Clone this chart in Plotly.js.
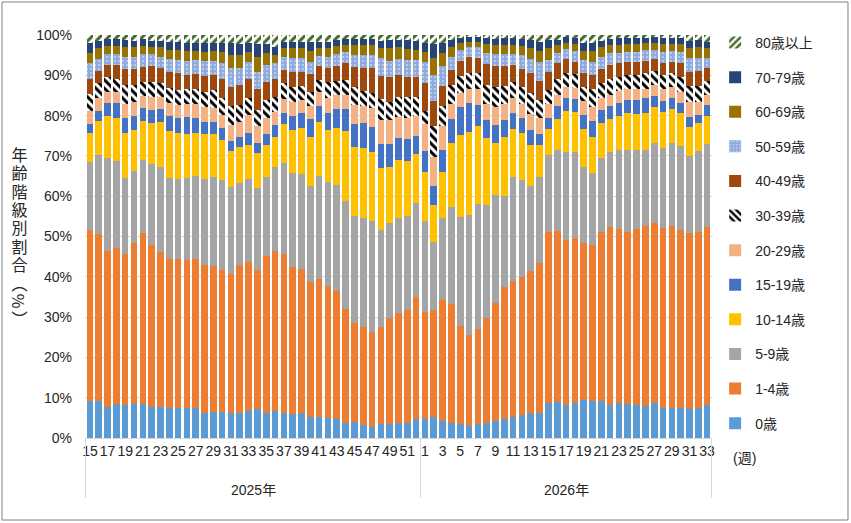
<!DOCTYPE html>
<html>
<head>
<meta charset="utf-8">
<script src="https://cdn.plot.ly/plotly-3.0.1.min.js"></script>
<style>
  html, body { margin: 0; padding: 0; background: #fff; }
  #chart { width: 851px; height: 523px; }
</style>
</head>
<body>
<div id="chart"></div>
<script>
(function () {
    'use strict';

    // week numbers on the x axis
    var weeks2025 = [15, 16, 17, 18, 19, 20, 21, 22, 23, 24, 25, 26, 27, 28, 29, 30, 31, 32, 33, 34,
        35, 36, 37, 38, 39, 40, 41, 42, 43, 44, 45, 46, 47, 48, 49, 50, 51, 52];
    var weeks2026 = [1, 2, 3, 4, 5, 6, 7, 8, 9, 10, 11, 12, 13, 14, 15, 16, 17, 18, 19, 20,
        21, 22, 23, 24, 25, 26, 27, 28, 29, 30, 31, 32, 33];
    var yearLabels = ['2025年', '2026年'];
    var yTicks = [0, 10, 20, 30, 40, 50, 60, 70, 80, 90, 100];

    // share of cases per age group (%), one value per week
    var age0 = [9.3, 9.3, 7.6, 8.4, 8.2, 8.4, 8.4, 7.8, 7.8, 7.5,
        7.4, 7.4, 7.4, 6.3, 6.5, 6.5, 6.1, 6.3, 6.7, 7.1,
        6.1, 6.7, 6.1, 6.0, 6.1, 5.1, 5.1, 5.0, 4.7, 3.6,
        4.0, 3.2, 2.8, 3.5, 3.5, 3.6, 3.8, 4.6, 4.6, 5.3,
        4.2, 3.6, 3.4, 3.0, 3.4, 3.6, 4.2, 4.6, 5.3, 5.7,
        6.1, 6.3, 8.6, 9.0, 8.2, 8.8, 9.4, 9.3, 9.3, 8.2,
        8.6, 8.4, 8.2, 7.9, 8.6, 7.5, 7.5, 7.5, 7.1, 7.5, 8.2];
    var age1_4 = [42.3, 41.3, 38.8, 38.7, 37.5, 39.9, 42.4, 40.1, 38.4, 36.9,
        36.9, 36.8, 36.9, 36.6, 36.3, 35.2, 34.5, 36.6, 36.9, 34.6,
        39.1, 39.8, 39.6, 36.5, 35.8, 33.7, 34.4, 32.7, 31.8, 28.3,
        24.6, 24.3, 23.6, 24.0, 26.2, 27.3, 28.0, 30.5, 26.7, 26.5,
        30.0, 29.7, 24.5, 22.6, 23.6, 26.1, 29.2, 32.8, 33.7, 34.2,
        35.4, 37.2, 42.4, 42.4, 40.9, 40.9, 39.1, 38.6, 41.9, 44.2,
        43.3, 42.6, 43.6, 44.7, 44.8, 44.7, 45.1, 44.1, 43.7, 43.7, 44.2];
    var age5_9 = [17.0, 19.6, 23.2, 21.7, 18.9, 18.0, 18.3, 20.0, 21.0, 20.2,
        20.0, 20.4, 20.7, 21.3, 22.0, 22.2, 21.8, 20.4, 20.7, 20.4,
        19.6, 20.7, 22.6, 23.3, 23.5, 23.8, 25.5, 25.9, 26.4, 27.0,
        26.5, 27.0, 27.4, 24.1, 23.6, 23.6, 23.3, 23.3, 22.5, 16.8,
        20.5, 23.9, 26.9, 29.7, 31.1, 28.0, 26.9, 22.7, 25.7, 24.1,
        21.0, 21.3, 19.2, 20.1, 21.8, 21.3, 18.8, 17.9, 18.2, 18.6,
        19.6, 20.5, 19.7, 18.9, 19.7, 19.8, 20.5, 20.9, 19.2, 20.1, 20.5];
    var age10_14 = [7.2, 8.5, 10.3, 10.7, 11.2, 10.1, 9.6, 10.2, 11.1, 11.7,
        11.3, 10.8, 10.6, 11.2, 10.6, 10.0, 8.9, 8.9, 8.4, 8.7,
        7.9, 7.6, 9.6, 10.6, 11.6, 12.1, 13.5, 12.8, 14.1, 17.4,
        17.0, 17.5, 17.1, 15.3, 14.0, 14.6, 13.7, 12.1, 12.3, 9.2,
        11.2, 15.9, 20.4, 20.7, 19.3, 16.7, 13.0, 14.7, 11.9, 11.8,
        10.3, 7.8, 6.5, 7.7, 10.2, 10.0, 9.3, 9.0, 8.7, 8.2,
        8.5, 9.1, 8.8, 9.1, 9.1, 8.9, 8.5, 8.1, 7.2, 6.9, 7.1];
    var age15_19 = [2.2, 2.5, 3.3, 3.7, 3.5, 3.6, 3.1, 3.3, 3.4, 3.7,
        3.9, 4.3, 3.9, 3.1, 3.1, 3.1, 2.4, 2.5, 3.1, 2.5,
        2.7, 2.9, 2.8, 3.5, 3.7, 4.4, 3.9, 4.3, 4.6, 5.3,
        5.8, 6.2, 6.2, 6.0, 5.6, 5.3, 5.4, 4.5, 5.1, 4.8,
        5.6, 6.0, 6.9, 7.2, 5.2, 4.6, 4.4, 4.1, 4.1, 3.7,
        3.6, 2.9, 2.6, 3.1, 3.2, 3.1, 3.5, 3.9, 3.3, 3.1,
        3.1, 3.3, 3.6, 3.7, 2.7, 2.7, 2.8, 2.5, 2.5, 1.9, 2.6];
    var age20_29 = [3.2, 3.1, 2.7, 2.7, 3.7, 3.5, 3.1, 3.3, 3.0, 3.2,
        3.1, 3.2, 3.5, 3.6, 3.3, 3.2, 4.0, 3.8, 4.3, 4.2,
        3.9, 3.3, 3.3, 3.6, 3.2, 3.3, 3.5, 3.6, 3.5, 3.5,
        4.7, 4.2, 4.7, 5.9, 6.0, 5.2, 5.3, 5.0, 6.6, 7.2,
        5.8, 3.9, 3.4, 3.3, 3.9, 3.9, 4.4, 4.1, 3.6, 3.4,
        4.0, 3.8, 3.6, 2.9, 2.7, 2.7, 3.4, 3.5, 2.9, 2.8,
        2.9, 2.6, 2.6, 2.2, 2.7, 2.9, 2.6, 2.8, 3.8, 3.4, 2.5];
    var age30_39 = [4.2, 3.7, 3.6, 3.3, 4.6, 4.1, 3.5, 3.7, 3.3, 3.6,
        3.8, 3.6, 3.5, 3.8, 4.6, 4.1, 4.7, 4.1, 4.2, 3.9,
        4.6, 3.7, 4.2, 3.7, 3.4, 3.5, 3.0, 4.1, 3.6, 3.7,
        4.4, 3.8, 3.9, 5.4, 4.6, 5.1, 5.2, 4.7, 3.3, 7.5,
        5.1, 4.6, 4.3, 4.0, 4.0, 4.7, 4.9, 4.3, 4.1, 4.3,
        5.2, 4.6, 3.5, 4.0, 3.5, 3.5, 3.7, 4.3, 3.9, 4.1,
        3.7, 3.6, 3.6, 4.0, 3.5, 3.6, 3.5, 3.8, 3.9, 3.9, 3.6];
    var age40_49 = [3.7, 3.1, 3.1, 3.4, 3.9, 3.9, 3.7, 3.9, 3.7, 3.9,
        4.1, 3.6, 3.8, 3.9, 3.7, 4.7, 4.6, 5.0, 4.8, 5.1,
        4.5, 4.3, 3.1, 3.7, 3.6, 4.3, 3.4, 3.5, 3.6, 4.2,
        5.0, 5.5, 6.0, 5.6, 6.0, 5.4, 4.8, 4.8, 7.1, 6.2,
        4.9, 3.7, 3.8, 4.0, 3.7, 5.1, 5.3, 5.0, 4.2, 4.3,
        4.9, 4.8, 4.3, 3.8, 3.5, 3.1, 3.3, 3.6, 3.3, 3.3,
        3.3, 3.3, 3.3, 3.1, 2.9, 3.0, 2.9, 3.3, 3.3, 3.7, 3.2];
    var age50_59 = [3.9, 2.9, 2.7, 2.7, 3.1, 3.1, 3.2, 3.0, 2.9, 3.3,
        3.3, 3.5, 3.5, 3.8, 3.5, 4.0, 4.7, 4.3, 4.3, 4.4,
        4.2, 4.0, 3.2, 3.3, 3.3, 3.2, 2.5, 2.7, 3.0, 2.7,
        3.0, 3.3, 3.3, 4.4, 4.1, 3.9, 4.3, 4.3, 5.2, 6.6,
        5.0, 3.3, 2.8, 2.5, 2.7, 2.9, 3.1, 3.0, 2.8, 3.5,
        3.5, 4.7, 3.1, 2.6, 2.5, 2.7, 3.3, 3.3, 3.1, 3.1,
        2.6, 2.5, 2.5, 2.7, 2.3, 2.8, 2.7, 2.9, 3.5, 3.3, 2.5];
    var age60_69 = [2.5, 2.7, 2.0, 2.0, 2.3, 2.3, 2.0, 1.8, 2.3, 2.4,
        2.5, 2.5, 2.2, 2.3, 2.5, 2.9, 3.3, 3.1, 2.5, 3.7,
        2.9, 2.0, 2.2, 2.5, 2.5, 2.7, 1.9, 2.1, 2.0, 1.8,
        2.5, 2.5, 2.5, 2.5, 3.1, 2.9, 2.7, 2.5, 2.3, 4.1,
        3.2, 2.5, 1.7, 1.3, 1.4, 2.2, 2.1, 2.2, 2.1, 2.3,
        2.7, 2.7, 2.9, 1.9, 1.6, 1.7, 2.3, 2.7, 2.3, 1.9,
        1.9, 1.9, 1.9, 1.7, 1.7, 1.9, 1.7, 1.9, 2.5, 2.5, 2.3];
    var age70_79 = [2.6, 1.9, 1.6, 1.6, 1.9, 1.7, 1.6, 1.5, 1.7, 1.9,
        2.0, 2.0, 2.1, 2.2, 2.0, 2.2, 2.9, 2.8, 2.0, 3.2,
        2.3, 2.1, 1.6, 1.6, 1.6, 2.2, 1.6, 1.6, 1.5, 1.4,
        1.4, 1.4, 1.4, 1.9, 2.1, 1.9, 2.3, 2.2, 2.4, 3.6,
        2.6, 1.7, 1.1, 1.1, 1.1, 1.4, 1.4, 1.7, 1.7, 1.6,
        2.1, 2.2, 2.1, 1.3, 1.3, 1.4, 1.8, 2.0, 1.7, 1.4,
        1.7, 1.4, 1.4, 1.2, 1.4, 1.4, 1.4, 1.4, 1.9, 1.9, 1.6];
    var age80 = [1.9, 1.4, 1.1, 1.1, 1.2, 1.4, 1.1, 1.4, 1.4, 1.7,
        1.7, 1.9, 1.9, 1.9, 1.9, 1.9, 2.1, 2.2, 2.1, 2.2,
        2.2, 2.9, 1.7, 1.7, 1.7, 1.7, 1.7, 1.7, 1.2, 1.1,
        1.1, 1.1, 1.1, 1.4, 1.2, 1.2, 1.2, 1.5, 1.9, 2.2,
        1.9, 1.2, 0.8, 0.6, 0.6, 0.8, 1.1, 0.8, 0.8, 1.1,
        1.2, 1.7, 1.2, 1.2, 0.6, 0.8, 2.1, 1.9, 1.4, 1.1,
        0.8, 0.8, 0.8, 0.8, 0.6, 0.8, 0.8, 0.8, 1.4, 1.2, 1.7];

    var FONT = "'Liberation Sans', 'Noto Sans CJK JP', sans-serif";
    var TEXT = '#262626';
    var GRID = '#D9D9D9';
    var Y_TITLE = '年齢階級別割合（%）';

    // one category per week; the axis shows only the week number
    var cats = [], tickVals = [], tickText = [];
    weeks2025.forEach(function (w) { cats.push('2025-' + w); });
    weeks2026.forEach(function (w) { cats.push('2026-' + w); });
    var allWeeks = weeks2025.concat(weeks2026);
    for (var k = 0; k < cats.length; k += 2) {
        tickVals.push(cats[k]);
        tickText.push(String(allWeeks[k]));
    }
    var n25 = weeks2025.length, n26 = weeks2026.length;

    var groups = [
        { name: '0歳', y: age0, color: '#5B9BD5' },
        { name: '1-4歳', y: age1_4, color: '#ED7D31' },
        { name: '5-9歳', y: age5_9, color: '#A5A5A5' },
        { name: '10-14歳', y: age10_14, color: '#FFC000' },
        { name: '15-19歳', y: age15_19, color: '#4472C4' },
        { name: '20-29歳', y: age20_29, color: '#F4B183' },
        { name: '30-39歳', y: age30_39, color: '#FFFFFF',
            pattern: { shape: '\\', fgcolor: '#000000', fgopacity: 1, size: 6, solidity: 0.5, fillmode: 'overlay' } },
        { name: '40-49歳', y: age40_49, color: '#9E480E' },
        { name: '50-59歳', y: age50_59, color: '#8FAADC',
            pattern: { shape: '.', fgcolor: '#FFFFFF', fgopacity: 0.9, size: 4, solidity: 0.12, fillmode: 'overlay' } },
        { name: '60-69歳', y: age60_69, color: '#997300' },
        { name: '70-79歳', y: age70_79, color: '#264478' },
        { name: '80歳以上', y: age80, color: '#FFFFFF',
            pattern: { shape: '/', fgcolor: '#43682B', fgopacity: 1, size: 6, solidity: 0.5, fillmode: 'overlay' } }
    ];

    var data = groups.map(function (g, i) {
        var marker = { color: g.color, line: { width: 0 } };
        if (g.pattern) {
            marker.pattern = g.pattern;
        }
        return {
            type: 'bar',
            name: g.name,
            legendgroup: 'g' + i,
            legendrank: (groups.length - i) * 10,
            x: cats,
            y: g.y,
            marker: marker,
            hoverinfo: 'name+y'
        };
    });

    var annotations = [
        {
            xref: 'paper', yref: 'paper',
            x: -0.105, y: 0.497,
            xanchor: 'center', yanchor: 'middle',
            text: Y_TITLE,
            showarrow: false,
            font: { family: "'Noto Sans CJK JP', sans-serif", size: 16, color: TEXT }
        },
        {
            xref: 'paper', yref: 'paper',
            x: 1.03, y: -0.05,
            xanchor: 'left', yanchor: 'middle',
            text: '(週)',
            showarrow: false,
            font: { family: FONT, size: 14, color: TEXT }
        },
        // year group labels under the week numbers
        {
            xref: 'x', yref: 'paper',
            x: (n25 - 1) / 2, y: -0.129,
            xanchor: 'center', yanchor: 'middle',
            text: yearLabels[0],
            showarrow: false,
            font: { family: FONT, size: 14, color: TEXT }
        },
        {
            xref: 'x', yref: 'paper',
            x: n25 + (n26 - 1) / 2, y: -0.129,
            xanchor: 'center', yanchor: 'middle',
            text: yearLabels[1],
            showarrow: false,
            font: { family: FONT, size: 14, color: TEXT }
        }
    ];

    // group dividers of the two-level axis
    var shapes = [-0.5, n25 - 0.5, n25 + n26 - 0.5].map(function (xv) {
        return {
            type: 'line', xref: 'x', yref: 'paper',
            x0: xv, x1: xv, y0: 0, y1: -0.149,
            line: { color: GRID, width: 1 }
        };
    });
    shapes.push({
        type: 'rect', xref: 'paper', yref: 'paper',
        x0: -0.1324, x1: 1.2169, y0: -0.2035, y1: 1.0819,
        line: { color: '#7F7F7F', width: 1 },
        fillcolor: 'rgba(0,0,0,0)',
        layer: 'below'
    });

    var layout = {
        width: 851,
        height: 523,
        margin: { l: 85, r: 139, t: 35, b: 85 },
        paper_bgcolor: '#FFFFFF',
        plot_bgcolor: '#FFFFFF',
        font: { family: FONT, size: 14, color: TEXT },
        barmode: 'stack',
        barnorm: 'percent',
        bargap: 0.25,
        showlegend: true,
        legend: {
            x: 1.005,
            xanchor: 'left',
            y: 1.02,
            yanchor: 'top',
            traceorder: 'grouped',
            tracegroupgap: 13.4,
            maxheight: 1,
            font: { family: FONT, size: 14, color: TEXT },
            bgcolor: 'rgba(0,0,0,0)'
        },
        xaxis: {
            type: 'category',
            tickmode: 'array',
            tickvals: tickVals,
            ticktext: tickText,
            tickangle: 0,
            ticks: '',
            showgrid: false,
            showline: true,
            linecolor: GRID,
            linewidth: 1,
            tickfont: { family: FONT, size: 14, color: TEXT }
        },
        yaxis: {
            range: [0, 100],
            tickmode: 'array',
            tickvals: yTicks,
            ticktext: yTicks.map(function (v) { return v + '%'; }),
            showgrid: true,
            gridcolor: GRID,
            gridwidth: 1,
            zeroline: false,
            showline: false,
            ticks: '',
            ticklabelstandoff: 12,
            tickfont: { family: FONT, size: 14, color: TEXT }
        },
        annotations: annotations,
        shapes: shapes
    };

    var config = { displayModeBar: false, staticPlot: true };

    Plotly.newPlot('chart', data, layout, config).then(function (gd) {
        // set the y title in vertical writing (upright kanji, turned brackets)
        var texts = gd.querySelectorAll('.annotation-text');
        for (var i = 0; i < texts.length; i++) {
            var el = texts[i];
            if (el.textContent !== Y_TITLE) continue;
            var bb = el.getBBox();
            var cx = bb.x + bb.width / 2;
            var cy = bb.y + bb.height / 2;
            el.setAttribute('writing-mode', 'vertical-rl');
            el.style.writingMode = 'vertical-rl';
            el.setAttribute('text-anchor', 'middle');
            el.setAttribute('x', cx);
            el.setAttribute('y', cy);
            el.style.letterSpacing = '2.4px';
        }
    });
})();
</script>
</body>
</html>
